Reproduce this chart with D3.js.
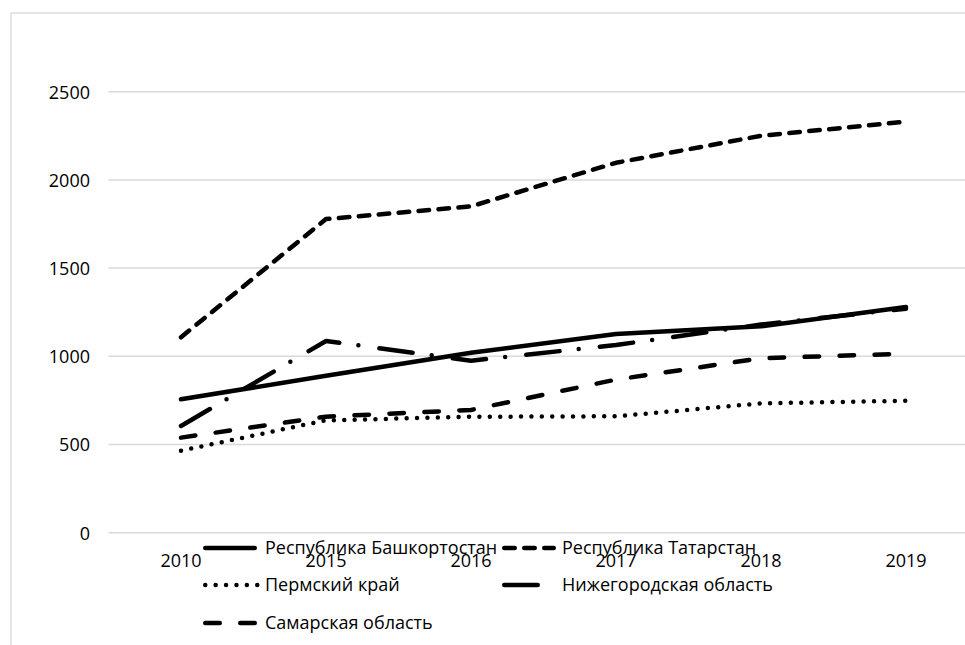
<!DOCTYPE html>
<html><head><meta charset="utf-8">
<script src="https://cdn.jsdelivr.net/npm/d3@7"></script>
<style>body{margin:0;background:#fff}svg{display:block}text{font-family:"Open Sans",sans-serif;fill:#000}</style>
</head><body>
<svg id="c" width="965" height="645"></svg>
<script>
const years = ["2010","2015","2016","2017","2018","2019"];
const yTicks = [0,500,1000,1500,2000,2500];
const seriesNames = ["Республика Башкортостан","Республика Татарстан","Пермский край","Нижегородская область","Самарская область"];
const bashkortostan = [756, 890, 1020, 1127, 1170, 1280];
const tatarstan = [1108, 1778, 1850, 2097, 2250, 2330];
const perm = [465, 637, 657, 660, 733, 748];
const nizhny = [605, 1087, 975, 1064, 1180, 1270];
const samara = [539, 658, 696, 868, 989, 1015];
const seriesValues = [bashkortostan, tatarstan, perm, nizhny, samara];
const dashes = ["none", "10.5,9.5", "0,10.4", "33.5,19.25,0,21.25", "14.5,20.5"];

const svg = d3.select("#c");
// chart area frame
svg.append("rect").attr("x",11).attr("y",13).attr("width",1100).attr("height",800)
  .attr("fill","none").attr("stroke","#d9d9d9").attr("stroke-width",1.3);

const x = d3.scaleBand().domain(years).range([108.5, 978.5]);
const y = d3.scaleLinear().domain([0,2500]).range([532.7, 91.7]);

// gridlines
svg.append("g").selectAll("line").data(yTicks).join("line")
  .attr("x1",108.5).attr("x2",978.5)
  .attr("y1",d=>y(d)).attr("y2",d=>y(d))
  .attr("stroke","#d9d9d9").attr("stroke-width",1.5);

// y axis labels
const yAxis = d3.axisLeft(y).tickValues(yTicks).tickFormat(d3.format("d")).tickSize(0).tickPadding(0);
const gy = svg.append("g").attr("transform","translate(90,0)").call(yAxis);
gy.select(".domain").remove();
gy.selectAll("text").attr("font-size",18).attr("font-family","Open Sans").attr("fill","#000").attr("dy","0.35em");

// x axis labels
const xAxis = d3.axisBottom(x).tickSize(0).tickPadding(0);
const gx = svg.append("g").attr("transform","translate(0,561)").call(xAxis);
gx.select(".domain").remove();
gx.selectAll("text").attr("font-size",18).attr("font-family","Open Sans").attr("fill","#000").attr("dy","0.35em");

const line = d3.line().x((d,i)=>x(years[i]) + x.bandwidth()/2).y(d=>y(d));

svg.append("g").selectAll("path").data(seriesValues).join("path")
  .attr("d", d=>line(d))
  .attr("fill","none").attr("stroke","#000").attr("stroke-width",4.5)
  .attr("stroke-linecap","round").attr("stroke-linejoin","round")
  .attr("stroke-dasharray",(d,i)=>dashes[i]);

// legend
const legendPos = [[205.25,548],[504.25,548],[205.25,585],[504.25,585],[205.25,623]];
const lg = svg.append("g").selectAll("g").data(seriesNames).join("g")
  .attr("transform",(d,i)=>`translate(${legendPos[i][0]},${legendPos[i][1]})`);
lg.append("line").attr("x1",0).attr("x2",(d,i)=> i===2 ? 52 : 49.5).attr("y1",0).attr("y2",0)
  .attr("stroke","#000").attr("stroke-width",4.5).attr("stroke-linecap","round")
  .attr("stroke-dasharray",(d,i)=> i===0 ? "none" : dashes[i]);
lg.append("text").attr("x",(d,i)=> (i%2===0 ? 265 : 562) - legendPos[i][0]).attr("y",0).attr("dy","0.35em")
  .attr("font-size",18).text(d=>d);
</script>
</body></html>
